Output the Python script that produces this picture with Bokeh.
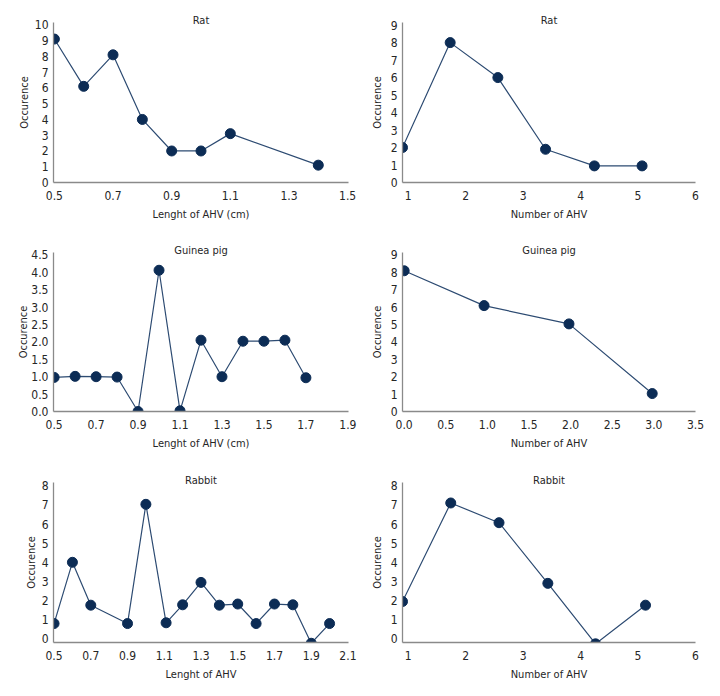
from bokeh.plotting import figure
from bokeh.layouts import column, row
from bokeh.models import Range1d, FixedTicker, Title
from bokeh.embed import file_html
from bokeh.resources import INLINE

# ---------------- data ----------------
rat_len_x = [0.5, 0.6, 0.7, 0.8, 0.9, 1.0, 1.1, 1.4]
rat_len_y = [9.1, 6.1, 8.1, 4.0, 2.0, 2.0, 3.1, 1.1]

rat_num_x = [0.9, 1.73, 2.56, 3.39, 4.24, 5.07]
rat_num_y = [2.0, 8.0, 6.0, 1.9, 0.95, 0.95]

gp_len_x = [0.5, 0.6, 0.7, 0.8, 0.9, 1.0, 1.1, 1.2, 1.3, 1.4, 1.5, 1.6, 1.7]
gp_len_y = [0.98, 1.01, 1.0, 0.99, 0.0, 4.06, 0.02, 2.05, 1.0, 2.02, 2.02, 2.05, 0.97]

gp_num_x = [0.0, 0.96, 1.98, 2.98]
gp_num_y = [8.08, 6.08, 5.03, 1.03]

rab_len_x = [0.5, 0.6, 0.7, 0.9, 1.0, 1.11, 1.2, 1.3, 1.4, 1.5, 1.6, 1.7, 1.8, 1.9, 2.0]
rab_len_y = [0.8, 4.0, 1.76, 0.8, 7.03, 0.84, 1.78, 2.95, 1.76, 1.82, 0.8, 1.82, 1.78, -0.23, 0.8]

rab_num_x = [0.9, 1.74, 2.58, 3.43, 4.26, 5.13]
rab_num_y = [1.95, 7.1, 6.07, 2.9, -0.26, 1.76]

xt_len_rat = ["0.5", "0.7", "0.9", "1.1", "1.3", "1.5"]
xt_len_gp = ["0.5", "0.7", "0.9", "1.1", "1.3", "1.5", "1.7", "1.9"]
xt_len_rab = ["0.5", "0.7", "0.9", "1.1", "1.3", "1.5", "1.7", "1.9", "2.1"]
xt_num = ["1", "2", "3", "4", "5", "6"]
xt_num_gp = ["0.0", "0.5", "1.0", "1.5", "2.0", "2.5", "3.0", "3.5"]
yt_rat_len = ["0", "1", "2", "3", "4", "5", "6", "7", "8", "9", "10"]
yt_rat_num = ["0", "1", "2", "3", "4", "5", "6", "7", "8", "9"]
yt_gp_len = ["0.0", "0.5", "1.0", "1.5", "2.0", "2.5", "3.0", "3.5", "4.0", "4.5"]
yt_gp_num = ["0", "1", "2", "3", "4", "5", "6", "7", "8", "9"]
yt_rab = ["0", "1", "2", "3", "4", "5", "6", "7", "8"]

FONT = "DejaVu Sans Condensed"
FS = "11px"
FS_TICK = "12px"
TXT = "#262626"
LINE_C = "#2d4b72"
MARK_C = "#0c2c55"
AXIS_C = "#8a8a8a"


def panel(title, xs, ys, xr, yr, xticks, yticks, xlabel, width, height,
          bl, br, bt, bb, ylab_standoff=1):
    p = figure(width=width, height=height, output_backend="svg",
               toolbar_location=None, x_range=Range1d(*xr), y_range=Range1d(*yr),
               min_border_left=bl, min_border_right=br,
               min_border_top=bt, min_border_bottom=bb)
    p.outline_line_color = None
    p.grid.visible = False
    xv = [float(t) for t in xticks]
    yv = [float(t) for t in yticks]
    p.xaxis.ticker = FixedTicker(ticks=xv)
    p.yaxis.ticker = FixedTicker(ticks=yv)
    p.xaxis.major_label_overrides = {v: t for v, t in zip(xv, xticks)}
    p.yaxis.major_label_overrides = {v: t for v, t in zip(yv, yticks)}
    for ax in (p.xaxis, p.yaxis):
        ax.major_tick_line_color = None
        ax.minor_tick_line_color = None
        ax.major_tick_out = 0
        ax.major_tick_in = 0
        ax.minor_tick_out = 0
        ax.minor_tick_in = 0
        ax.axis_line_color = AXIS_C
        ax.axis_line_width = 1.3
        ax.major_label_text_font = FONT
        ax.major_label_text_font_size = FS_TICK
        ax.major_label_text_color = TXT
        ax.axis_label_text_font = FONT
        ax.axis_label_text_font_size = FS
        ax.axis_label_text_font_style = "normal"
        ax.axis_label_text_color = TXT
    p.xaxis.axis_label = xlabel
    p.yaxis.axis_label = "Occurence"
    p.xaxis.major_label_standoff = 8
    p.xaxis.axis_label_standoff = 5
    p.yaxis.major_label_standoff = 5
    p.yaxis.axis_label_standoff = ylab_standoff
    p.line(xs, ys, line_color=LINE_C, line_width=1.2)
    p.scatter(xs, ys, size=10, fill_color=MARK_C, line_color=MARK_C)
    t = Title(text=title, align="center", text_font=FONT, text_font_size=FS,
              text_font_style="normal", text_color=TXT, standoff=-9)
    p.add_layout(t, "above")
    return p


LW, RW = 360, 360
a = panel("Rat", rat_len_x, rat_len_y, (0.497, 1.503), (0, 10.15), xt_len_rat, yt_rat_len,
          "Lenght of AHV (cm)", LW, 240, 53, 12, 22, 58, ylab_standoff=1)
b = panel("Rat", rat_num_x, rat_num_y, (0.9, 6.0), (0, 9.15), xt_num, yt_rat_num,
          "Number of AHV", RW, 240, 42, 25, 22, 58, ylab_standoff=4)
c = panel("Guinea pig", gp_len_x, gp_len_y, (0.497, 1.903), (0, 4.57), xt_len_gp, yt_gp_len,
          "Lenght of AHV (cm)", LW, 230, 53, 12, 12, 59, ylab_standoff=-2)
d = panel("Guinea pig", gp_num_x, gp_num_y, (-0.02, 3.5), (0, 9.13), xt_num_gp, yt_gp_num,
          "Number of AHV", RW, 230, 42, 25, 12, 59, ylab_standoff=4)
e = panel("Rabbit", rab_len_x, rab_len_y, (0.497, 2.103), (-0.19, 8.17), xt_len_rab, yt_rab,
          "Lenght of AHV", LW, 226, 53, 12, 12, 54, ylab_standoff=1)
f = panel("Rabbit", rab_num_x, rab_num_y, (0.9, 6.0), (-0.19, 8.17), xt_num, yt_rab,
          "Number of AHV", RW, 226, 42, 25, 12, 54, ylab_standoff=4)

layout = column(row(a, b), row(c, d), row(e, f))
open("out.html", "w").write(file_html(layout, INLINE))
